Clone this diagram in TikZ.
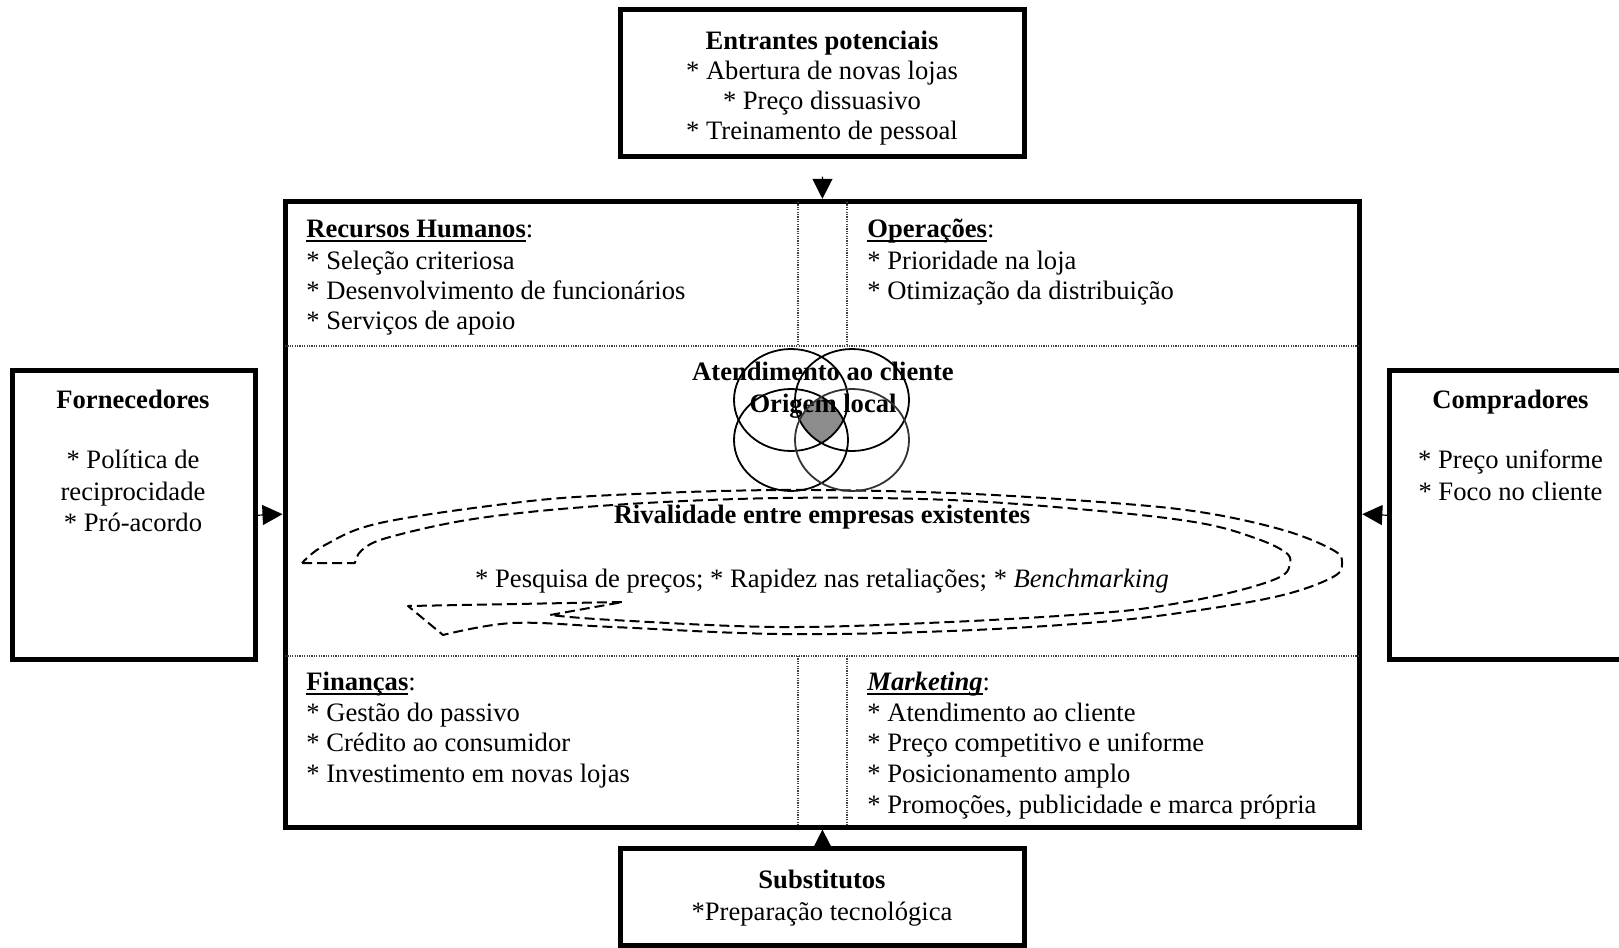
\documentclass[tikz,border=0pt]{standalone}
\usepackage{fontspec}
\setmainfont{Liberation Serif}
\usetikzlibrary{arrows.meta,fit}
\newcommand\fsz{\fontsize{13.3}{15}\selectfont}
\newcommand\myul[1]{\setbox0\hbox{#1}\rlap{\rule[-2.2pt]{\wd0}{0.9pt}}\box0}
\begin{document}
\begin{tikzpicture}[x=0.5pt,y=-0.5pt,
  box/.style={draw, line width=2.5pt, inner sep=0pt},
  txt/.style={inner sep=0pt, font=\fsz, text height=0.7em, text depth=0.2em},
  lt/.style={txt, anchor=west},
  dotl/.style={line width=0.6pt, dash pattern=on 0.6pt off 0.6pt, black!75},
  swirl/.style={line width=1pt, dash pattern=on 5pt off 2.5pt, line join=round},
  conn/.style={-{Triangle[length=10pt,width=10pt]}, line width=0.6pt},
  ring/.style={line width=0.9pt},
  elr/.style={x radius=28.5pt, y radius=25.5pt}]

\fill[white] (0,0) rectangle (1619,948);
\useasboundingbox (0,0) rectangle (1619,948);

% boxes
\node[box, fit={(620.5,9.5) (1024.5,156)}] (top) {};
\node[box, fit={(285,201.3) (1359.8,827)}] (main) {};
\node[box, fit={(12.4,370.7) (255,659.8)}] (left) {};
\node[box, fit={(1389.7,370.7) (1650,659.8)}] (right) {};
\node[box, fit={(620.5,848.7) (1024.5,945.8)}] (bottom) {};

% dotted dividers
\draw[dotl] (285,346) -- (1359.8,346);
\draw[dotl] (285,656) -- (1359.8,656);
\draw[dotl] (798,202) -- (798,346);
\draw[dotl] (847,202) -- (847,346);
\draw[dotl] (798,656) -- (798,826);
\draw[dotl] (847,656) -- (847,826);

% connectors
\draw[conn, shorten <=9pt] (top.south) -- (main.north);
\draw[conn] (bottom.north) -- (main.south);
\draw[conn] (left.east) -- (main.west);
\draw[conn] (right.west) -- (main.east);

% gray intersection
\begin{scope}
\clip (791,400) ellipse [elr];
\clip (852,400) ellipse [elr];
\clip (791,440) ellipse [elr];
\clip (852,440) ellipse [elr];
\fill[black!45] (770,370) rectangle (880,470);
\end{scope}

% swirl arrow
\draw[swirl] (302,563) -- (355,563)
 -- plot[smooth, tension=0.6] coordinates {(355,563) (362,550) (390,537) (480,518) (613,505) (780,498) (950,500) (1100,511) (1200,523) (1255,538) (1285,552) (1290,563) (1280,577) (1233,592) (1167,605) (1100,613) (950,622) (780,627) (613,620) (550,615)}
 -- (623,602) -- (408,606) -- (443,635)
 -- plot[smooth, tension=0.6] coordinates {(443,635) (513,623) (613,627) (780,634) (950,631) (1100,622) (1200,610) (1283,595) (1333,577) (1342,563) (1333,550) (1283,530) (1200,512) (1100,502) (950,493) (780,490) (613,495) (513,503) (380,523) (325,545) (302,563)};

% top box text
\node[txt] (t1) at (822,44.5) {\textbf{Entrantes potenciais}};
\node[txt] (t2) at (822,74.5) {* Abertura de novas lojas};
\node[txt] (t3) at (822,104.5) {* Preço dissuasivo};
\node[txt] (t4) at (822,134.5) {* Treinamento de pessoal};

% recursos humanos
\node[lt] (rh1) at (306,232.5) {\myul{\textbf{Recursos Humanos}}:};
\node[lt] (rh2) at (306,264) {* Seleção criteriosa};
\node[lt] (rh3) at (306,294) {* Desenvolvimento de funcionários};
\node[lt] (rh4) at (306,324) {* Serviços de apoio};

% operacoes
\node[lt] (op1) at (867,232.5) {\myul{\textbf{Operações}}:};
\node[lt] (op2) at (867,264) {* Prioridade na loja};
\node[lt] (op3) at (867,294) {* Otimização da distribuição};

% financas
\node[lt] (fi1) at (306,685.5) {\myul{\textbf{Finanças}}:};
\node[lt] (fi2) at (306,716.5) {* Gestão do passivo};
\node[lt] (fi3) at (306,746.5) {* Crédito ao consumidor};
\node[lt] (fi4) at (306,777.3) {* Investimento em novas lojas};

% marketing
\node[lt] (mk1) at (867,685.5) {\myul{\textbf{\textit{Marketing}}}:};
\node[lt] (mk2) at (867,716.5) {* Atendimento ao cliente};
\node[lt] (mk3) at (867,746.5) {* Preço competitivo e uniforme};
\node[lt] (mk4) at (867,777.3) {* Posicionamento amplo};
\node[lt] (mk5) at (867,808.3) {* Promoções, publicidade e marca própria};

% fornecedores
\node[txt] (fo1) at (133,403.6) {\textbf{Fornecedores}};
\node[txt] (fo2) at (133,463.5) {* Política de};
\node[txt] (fo3) at (133,495.5) {reciprocidade};
\node[txt] (fo4) at (133,526.5) {* Pró-acordo};

% compradores
\node[txt] (co1) at (1510.5,403.6) {\textbf{Compradores}};
\node[txt] (co2) at (1510.5,463.5) {* Preço uniforme};
\node[txt] (co3) at (1510.5,495.5) {* Foco no cliente};

% substitutos
\node[txt] (su1) at (822,883.7) {\textbf{Substitutos}};
\node[txt] (su2) at (822,915.7) {*Preparação tecnológica};

% center
\node[txt] (c1) at (823,375) {\textbf{Atendimento ao cliente}};
\node[txt] (c2) at (823,407) {\textbf{Origem local}};
\node[txt] (rv1) at (822,518) {\textbf{Rivalidade entre empresas existentes}};
\node[txt] (rv2) at (822,582) {* Pesquisa de preços; * Rapidez nas retaliações; * \textit{Benchmarking}};

% circles
\draw[ring] (791,400) ellipse [elr];
\draw[ring] (852,400) ellipse [elr];
\draw[ring] (791,440) ellipse [elr];
\draw[ring, black!80] (852,440) ellipse [elr];
\end{tikzpicture}
\end{document}
